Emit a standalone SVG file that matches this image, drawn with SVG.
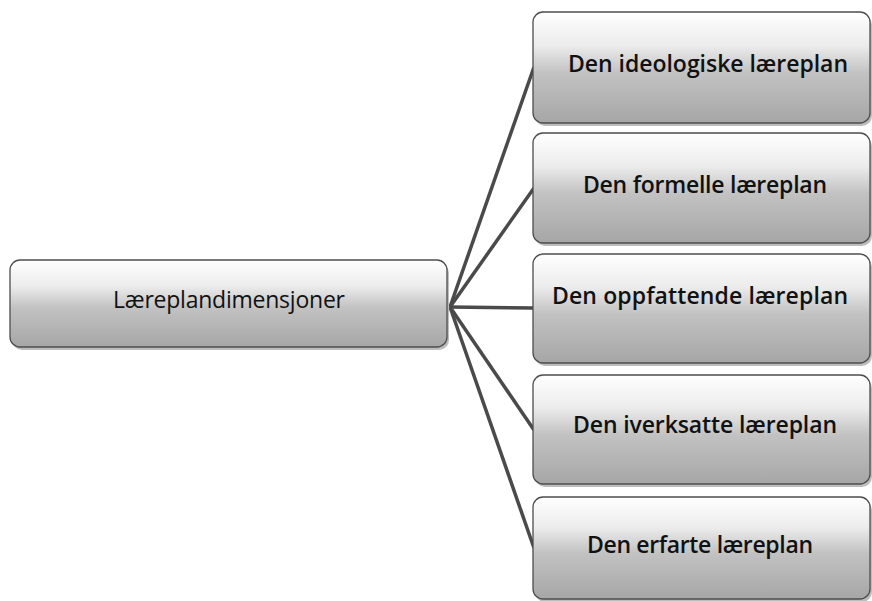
<svg xmlns="http://www.w3.org/2000/svg" width="872" height="601" viewBox="0 0 872 601">
<defs>
<linearGradient id="g" x1="0" y1="0" x2="0" y2="1">
<stop offset="0" stop-color="#ffffff"/>
<stop offset="0.3" stop-color="#ececec"/>
<stop offset="0.55" stop-color="#c2c2c2"/>
<stop offset="1" stop-color="#a6a6a6"/>
</linearGradient>
</defs>
<style>
.box{fill:url(#g);stroke:#4d4d4d;stroke-width:1.3}
.sh{fill:#bdbdbd}
.t{font-family:"Open Sans","Noto Sans",sans-serif;font-size:23px;font-weight:600;fill:#111;text-anchor:middle}
.tr{font-weight:400}
.c{stroke:#4a4a4a;stroke-width:3.5;fill:none}
</style>
<rect width="872" height="601" fill="#ffffff"/>
<g id="connectors">
<line class="c" x1="450" y1="307" x2="534" y2="67"/>
<line class="c" x1="450" y1="307" x2="534" y2="188"/>
<line class="c" x1="450" y1="307" x2="534" y2="308"/>
<line class="c" x1="450" y1="307" x2="534" y2="430"/>
<line class="c" x1="450" y1="307" x2="534" y2="548"/>
</g>
<g id="root">
<rect class="sh" x="12" y="263" width="437" height="87" rx="10"/>
<rect class="box" x="10" y="260" width="437" height="87" rx="10"/>
<text class="t tr" x="229" y="308" textLength="232">Læreplandimensjoner</text>
</g>
<g id="n1">
<rect class="sh" x="535" y="15" width="337" height="111" rx="10"/>
<rect class="box" x="533" y="12" width="337" height="111" rx="10"/>
<text class="t" x="708" y="72" textLength="280">Den ideologiske læreplan</text>
</g>
<g id="n2">
<rect class="sh" x="535" y="136" width="337" height="110" rx="10"/>
<rect class="box" x="533" y="133" width="337" height="110" rx="10"/>
<text class="t" x="705" y="193" textLength="244">Den formelle læreplan</text>
</g>
<g id="n3">
<rect class="sh" x="535" y="257" width="337" height="109" rx="10"/>
<rect class="box" x="533" y="254" width="337" height="109" rx="10"/>
<text class="t" x="700" y="304" textLength="296">Den oppfattende læreplan</text>
</g>
<g id="n4">
<rect class="sh" x="535" y="378" width="337" height="109" rx="10"/>
<rect class="box" x="533" y="375" width="337" height="109" rx="10"/>
<text class="t" x="705" y="433" textLength="264">Den iverksatte læreplan</text>
</g>
<g id="n5">
<rect class="sh" x="535" y="500" width="337" height="102" rx="10"/>
<rect class="box" x="533" y="497" width="337" height="102" rx="10"/>
<text class="t" x="700" y="553" textLength="226">Den erfarte læreplan</text>
</g>
</svg>
